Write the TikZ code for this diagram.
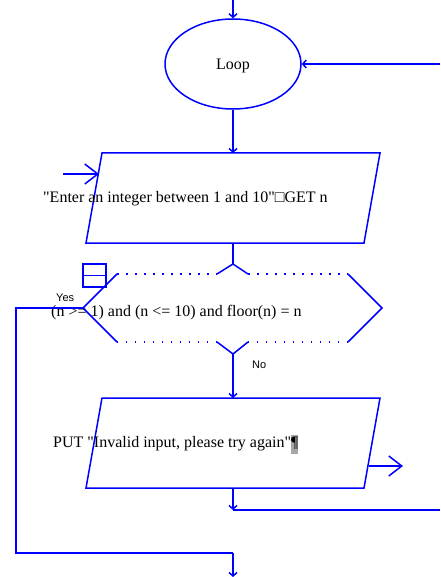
\documentclass[tikz,border=0pt]{standalone}
\usepackage{fontspec}
\setmainfont{Liberation Serif}
\newfontfamily\labelfont{Liberation Sans}
\usepackage{xcolor}
\usepackage{tikz}
\usetikzlibrary{shapes.geometric,arrows.meta,positioning,calc}
\definecolor{flowblue}{RGB}{0,0,255}
\newcommand{\flowtext}{\fontsize{16}{19}\selectfont}
\newcommand{\qq}{\textquotedbl}
\newcommand{\pilcrow}{{\setlength{\fboxsep}{0pt}\colorbox{black!35}{\strut¶}}}

\begin{document}
\begin{tikzpicture}[x=1pt, y=-1pt,
    flow/.style={draw=flowblue, line width=1.5pt},
    tip/.style={-{Straight Barb[length=3.5pt,width=8pt]}},
    bigtip/.style={-{Straight Barb[length=13pt,width=20pt]}},
    dots/.style={dash pattern=on 1.5pt off 7.5pt}]
    \useasboundingbox (0,0) rectangle (440,577);

    % Loop terminal
    \node[ellipse, flow, minimum width=136pt, minimum height=90pt, inner sep=0pt] (loop) at (233,64) {};
    \node[font=\flowtext, inner sep=0pt] (loopText) at (233,66) {Loop};
    \coordinate (entry) at (233,0);
    \coordinate (back) at (440,64);
    \draw[flow, tip] (entry) -- (loop.north);
    \draw[flow, tip] (back) -- (loop.east);

    % Input parallelogram
    \coordinate (g1) at (86,243);
    \coordinate (g2) at (364,243);
    \coordinate (g3) at (380,153);
    \coordinate (g4) at (102,153);
    \coordinate (getTop) at (233,153);
    \coordinate (getBot) at (233,243);
    \coordinate (getIn) at (63,174);
    \coordinate (getSide) at (99,174);
    \draw[flow] (g1) -- (g2) -- (g3) -- (g4) -- cycle;
    \node[anchor=west, inner sep=0pt, font=\flowtext] (prompt) at (43,199) {\qq Enter an integer between 1 and 10\qq □GET n};
    \draw[flow, tip] (loop.south) -- (getTop);
    \draw[flow, bigtip] (getIn) -- (getSide);

    % Decision
    \coordinate (dTop) at (233,264);
    \coordinate (dBot) at (233,354);
    \coordinate (dLeft) at (83,308);
    \coordinate (dRight) at (382,308);
    \draw[flow] (217,274) -- (dTop) -- (248,274);
    \draw[flow, dots] (248,274) -- (348,274);
    \draw[flow] (348,274) -- (dRight) -- (348,342);
    \draw[flow, dots] (348,342) -- (248,342);
    \draw[flow] (248,342) -- (dBot) -- (217,342);
    \draw[flow, dots] (217,342) -- (117,342);
    \draw[flow] (117,342) -- (dLeft) -- (117,274);
    \draw[flow, dots] (117,274) -- (217,274);
    \draw[flow] (83,264) rectangle (106,287);
    \draw[flow] (83,275.5) -- (106,275.5);
    \node[anchor=west, inner sep=0pt, font=\flowtext] (test) at (51,313) {(n >= 1) and (n <= 10) and floor(n) = n};
    \draw[flow] (getBot) -- (dTop);

    % Output parallelogram
    \coordinate (p1) at (86,488);
    \coordinate (p2) at (364,488);
    \coordinate (p3) at (380,398);
    \coordinate (p4) at (102,398);
    \coordinate (putTop) at (233,398);
    \coordinate (putBot) at (233,488);
    \coordinate (putSide) at (369,466);
    \coordinate (putOut) at (403,466);
    \draw[flow] (p1) -- (p2) -- (p3) -- (p4) -- cycle;
    \node[anchor=west, inner sep=0pt, font=\flowtext] (message) at (53,444) {PUT \qq Invalid input, please try again\qq\pilcrow};
    \draw[flow, tip] (dBot) -- (putTop);
    \draw[flow, bigtip] (putSide) -- (putOut);
    \node[anchor=west, inner sep=0pt, font=\labelfont\fontsize{11}{12}\selectfont] (no) at (252,365) {No};

    % Return to loop
    \coordinate (join) at (233,510);
    \coordinate (rEdge) at (440,510);
    \draw[flow, tip] (putBot) -- (join);
    \draw[flow] (join) -- (rEdge);

    % Yes branch
    \coordinate (yCorner) at (16,308);
    \coordinate (yLow) at (16,553);
    \coordinate (yJoin) at (233,553);
    \coordinate (exit) at (233,577);
    \draw[flow] (dLeft) -- (yCorner) -- (yLow) -- (yJoin);
    \draw[flow, tip] (yJoin) -- (exit);
    \node[anchor=west, inner sep=0pt, font=\labelfont\fontsize{11}{12}\selectfont] (yes) at (56,298) {Yes};

\end{tikzpicture}
\end{document}
